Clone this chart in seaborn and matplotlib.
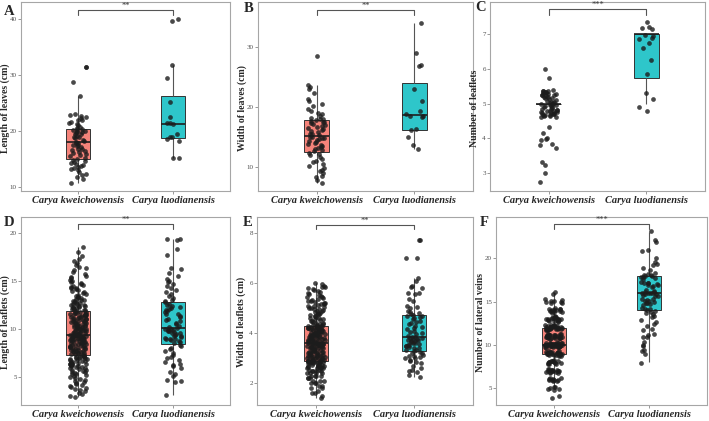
import numpy as np
import pandas as pd
import matplotlib
matplotlib.use("Agg")
import matplotlib.pyplot as plt
import seaborn as sns

sns.set_style("white")
plt.rcParams['font.family'] = ['Liberation Serif', 'DejaVu Serif']

species = ["Carya kweichowensis", "Carya luodianensis"]
box_colors = ["#F5837A", "#2EC6CA"]

# A - length of leaves (cm)
a_kw = [10.8, 11.5, 11.9, 12.1, 12.4, 12.8, 13.0, 13.2, 13.4, 13.6, 13.8, 14.0, 14.1, 14.3, 14.5, 14.7, 14.8,
        15.0, 15.2, 15.5, 15.7, 15.9, 16.1, 16.3, 16.5, 16.6, 16.8, 16.9, 17.1, 17.3, 17.5, 17.6, 17.8, 17.9,
        18.1, 18.3, 18.5, 18.7, 18.9, 19.0, 19.2, 19.4, 19.5, 19.7, 19.8, 19.9, 20.0, 20.1, 20.2, 20.3, 20.4,
        20.6, 20.8, 21.0, 21.3, 21.5, 21.7, 21.9, 22.0, 22.3, 22.5, 22.7, 22.9, 23.0, 26.2, 28.8, 31.4, 31.4]
a_luo = [15.3, 15.3, 18.3, 18.6, 18.9, 19.0, 19.4, 21.3, 21.4, 21.4, 22.5, 25.1, 29.4, 31.7, 39.6, 40.0]

# B - width of leaves (cm)
b_kw = [7.4, 7.9, 8.3, 8.6, 9.0, 9.3, 9.6, 9.9, 10.2, 10.5, 10.8, 11.1, 11.4, 11.7, 12.0, 12.2, 12.4,
        12.7, 12.9, 13.0, 13.2, 13.4, 13.5, 13.7, 13.9, 14.0, 14.2, 14.4, 14.5, 14.7, 14.8, 14.9, 15.0, 15.1,
        15.3, 15.5, 15.6, 15.8, 16.0, 16.2, 16.3, 16.5, 16.7, 16.8, 17.0, 17.2, 17.3, 17.5, 17.6, 17.7, 17.8,
        18.0, 18.1, 18.2, 18.5, 18.8, 19.0, 19.3, 19.7, 20.2, 20.6, 21.0, 21.4, 22.4, 23.0, 23.3, 23.7, 28.6]
b_luo = [13.1, 13.7, 15.1, 16.2, 16.3, 18.3, 18.5, 18.6, 18.8, 19.4, 21.0, 23.0, 26.9, 27.0, 29.0, 34.0]

# C - number of leaflets (counts, shown with vertical jitter as in the figure)
c_kw = [2.75, 3.0, 3.25, 3.33, 3.72, 3.8, 3.85, 3.95, 3.98, 4.02, 4.15, 4.32, 5.75, 6.0,
        5.38, 5.36, 5.35, 5.33, 5.31, 5.3, 5.28, 5.26, 5.25, 5.22, 5.2, 5.18, 5.15, 5.12, 5.1, 5.08,
        5.05, 5.03, 5.02, 5.0, 4.99, 4.97, 4.95, 4.93, 4.9, 4.88, 4.86, 4.85, 4.83, 4.82, 4.8, 4.78,
        4.77, 4.75, 4.73, 4.72, 4.7, 4.68, 4.67, 4.65, 4.64, 4.63, 4.62, 5.37, 5.29, 5.24, 5.16, 5.06,
        4.96, 4.91, 4.79, 4.74, 4.69, 4.66, 5.34]
c_luo = [7.35, 7.2, 7.18, 7.15, 6.98, 6.95, 6.88, 6.85, 6.75, 6.6, 6.25, 5.85, 5.3, 5.12, 4.9, 4.8]

# D - length of leaflets (cm)
d_kw = [2.9, 3.0, 3.2, 3.3, 3.5, 3.6, 3.8, 3.9, 4.0, 4.1, 4.2, 4.3, 4.4, 4.5, 4.6, 4.7, 4.8, 4.9, 5.0, 5.1,
        5.2, 5.3, 5.3, 5.4, 5.5, 5.5, 5.6, 5.7, 5.7, 5.8, 5.9, 5.9, 6.0, 6.0, 6.1, 6.1, 6.2, 6.2, 6.3, 6.3,
        6.4, 6.4, 6.5, 6.5, 6.6, 6.6, 6.7, 6.7, 6.8, 6.8, 6.9, 6.9, 7.0, 7.0, 7.0, 7.1, 7.1, 7.1, 7.2, 7.2,
        7.3, 7.3, 7.4, 7.4, 7.5, 7.5, 7.5, 7.6, 7.6, 7.7, 7.7, 7.7, 7.8, 7.8, 7.9, 7.9, 7.9, 8.0, 8.0, 8.1,
        8.1, 8.1, 8.2, 8.2, 8.3, 8.3, 8.3, 8.4, 8.4, 8.5, 8.5, 8.5, 8.6, 8.6, 8.7, 8.7, 8.7, 8.8, 8.8, 8.9,
        8.9, 8.9, 9.0, 9.0, 9.0, 9.1, 9.1, 9.1, 9.2, 9.2, 9.2, 9.3, 9.3, 9.3, 9.3, 9.3, 9.4, 9.4, 9.4, 9.4,
        9.4, 9.5, 9.5, 9.5, 9.6, 9.6, 9.6, 9.7, 9.7, 9.8, 9.8, 9.8, 9.9, 9.9, 10.0, 10.0, 10.0, 10.1, 10.1, 10.2,
        10.2, 10.2, 10.3, 10.3, 10.4, 10.4, 10.4, 10.5, 10.5, 10.6, 10.6, 10.6, 10.7, 10.7, 10.8, 10.8, 10.8,
        10.9, 10.9, 11.0, 11.0, 11.0, 11.1, 11.1, 11.2, 11.2, 11.2, 11.3, 11.3, 11.4, 11.4, 11.4, 11.5, 11.5,
        11.6, 11.6, 11.7, 11.7, 11.8, 11.8,
        11.9, 11.9, 12.0, 12.0, 12.1, 12.1, 12.2, 12.2, 12.3, 12.3, 12.4, 12.4, 12.5, 12.5, 12.6, 12.6, 12.7,
        12.7, 12.8, 12.9, 12.9, 13.0, 13.0, 13.1, 13.2, 13.3, 13.3, 13.4, 13.5, 13.6, 13.7, 13.8, 13.9, 14.0,
        14.1, 14.2, 14.3, 14.4, 14.5, 14.6, 14.7, 14.8, 14.9, 15.0, 15.1, 15.3, 15.4, 15.5, 15.7, 15.9, 16.1,
        16.3, 16.4, 16.6, 16.9, 17.1, 17.3, 17.6, 18.0, 18.5]
d_luo = [3.1, 4.5, 4.6, 4.7, 5.1, 5.3, 5.5, 5.9, 6.1, 6.2, 6.4, 6.6, 6.8, 7.0, 7.1, 7.3, 7.5, 7.7, 7.9, 8.0, 8.2, 8.3,
         8.5, 8.6, 8.7, 8.8, 8.9, 9.0, 9.0, 9.1, 9.2, 9.3, 9.3, 9.4, 9.5, 9.6, 9.6, 9.7, 9.8, 9.8, 9.9, 9.9, 10.0, 10.0,
         10.1, 10.2, 10.3, 10.5, 10.6, 10.8, 10.9, 11.0, 11.2, 11.3, 11.5, 11.6, 11.8, 11.9, 12.0, 12.1, 12.2, 12.3,
         12.4, 12.5, 12.6, 12.8,
         12.9, 13.0, 13.2, 13.4, 13.6, 13.8, 14.0, 14.3, 14.5, 14.7, 14.9, 15.0, 15.2, 15.5, 15.8, 16.2, 16.3, 17.7,
         18.3, 19.2, 19.3, 19.35]

# E - width of leaflets (cm)
e_kw = [1.4, 1.5, 1.6, 1.6, 1.7, 1.8, 1.8, 1.9, 1.9, 2.0, 2.0, 2.0, 2.1, 2.1, 2.1, 2.2, 2.2, 2.2, 2.3, 2.3,
        2.3, 2.3, 2.4, 2.4, 2.4, 2.4, 2.5, 2.5, 2.5, 2.5, 2.55, 2.55, 2.6, 2.6, 2.6, 2.6, 2.65, 2.65, 2.65, 2.7,
        2.7, 2.7, 2.7, 2.75, 2.75, 2.75, 2.8, 2.8, 2.8, 2.8, 2.82, 2.84, 2.85, 2.85, 2.86, 2.87, 2.88, 2.88, 2.89, 2.89,
        2.9, 2.9, 2.92, 2.93, 2.95, 2.95, 2.97, 2.98, 3.0, 3.0, 3.02, 3.03, 3.05, 3.05, 3.07, 3.08, 3.1, 3.1, 3.12, 3.13,
        3.15, 3.15, 3.17, 3.18, 3.2, 3.2, 3.22, 3.23, 3.25, 3.25, 3.27, 3.28, 3.3, 3.3, 3.32, 3.33, 3.35, 3.35, 3.37, 3.38,
        3.4, 3.4, 3.42, 3.43, 3.45, 3.45, 3.47, 3.48, 3.5, 3.5, 3.52, 3.53, 3.54, 3.55, 3.56, 3.57, 3.58, 3.58, 3.59, 3.6,
        3.6, 3.61, 3.62, 3.63, 3.65, 3.66, 3.67, 3.68, 3.7, 3.7, 3.72, 3.73, 3.74, 3.75, 3.77, 3.78, 3.8, 3.8, 3.81, 3.83,
        3.84, 3.85, 3.87, 3.88, 3.9, 3.9, 3.91, 3.93, 3.94, 3.95, 3.97, 3.98, 4.0, 4.0, 4.01, 4.03, 4.04, 4.05, 4.07, 4.08,
        4.1, 4.1, 4.11, 4.13, 4.14, 4.15, 4.17, 4.18, 4.2, 4.2, 4.21, 4.22, 4.23, 4.24, 4.25, 4.26, 4.27, 4.28, 4.29, 4.3,
        4.31, 4.33, 4.35, 4.37, 4.4, 4.42, 4.45, 4.47, 4.5, 4.52, 4.55, 4.58, 4.6, 4.62, 4.65, 4.68, 4.7, 4.72, 4.75, 4.78,
        4.8, 4.82, 4.85, 4.88, 4.9, 4.92, 4.95, 4.98, 5.0, 5.02, 5.05, 5.08, 5.1, 5.12, 5.15, 5.18, 5.2, 5.22, 5.25, 5.28,
        5.3, 5.33, 5.36, 5.4, 5.43, 5.46, 5.5, 5.53, 5.56, 5.6, 5.64, 5.68, 5.72, 5.76, 5.8, 5.83, 5.86, 5.9, 5.95, 6.0]
e_luo = [2.26, 2.35, 2.45, 2.5, 2.55, 2.6, 2.7, 2.8, 2.85, 2.9, 2.95, 3.0, 3.0, 3.05, 3.1, 3.1, 3.15, 3.2, 3.2, 3.25, 3.28,
         3.32, 3.35, 3.4, 3.42, 3.45, 3.48, 3.5, 3.52, 3.55, 3.58, 3.6, 3.62, 3.65, 3.68, 3.7, 3.72, 3.74, 3.76, 3.78, 3.8, 3.82,
         3.84, 3.86, 3.9, 3.95, 4.0, 4.05, 4.1, 4.15, 4.2, 4.25, 4.3, 4.35, 4.4, 4.45, 4.5, 4.55, 4.6, 4.65, 4.68, 4.7, 4.73,
         4.78, 4.8, 4.85, 4.9, 5.0, 5.05, 5.1, 5.3, 5.35, 5.55, 5.6, 5.6, 5.8, 5.85, 5.9, 6.1, 6.2, 7.0, 7.0, 7.7, 7.7]

# F - number of lateral veins (counts, shown with vertical jitter)
f_kw = [3.9, 4.1,
        4.8, 4.9, 5.0, 5.1, 5.2, 4.95,
        5.8, 5.9, 5.95, 6.0, 6.05, 6.1, 6.2, 5.85, 6.15, 6.0,
        6.8, 6.85, 6.9, 6.95, 7.0, 7.0, 7.05, 7.1, 7.15, 7.2, 6.75, 7.25, 6.9, 7.1, 7.0,
        7.8, 7.85, 7.9, 7.95, 8.0, 8.0, 8.05, 8.1, 8.15, 8.2, 7.75, 8.25, 7.9, 8.1,
        8.7, 8.75, 8.8, 8.85, 8.9, 8.9, 8.95, 9.0, 9.0, 9.0, 9.05, 9.1, 9.1, 9.15, 9.2, 9.2, 9.25, 9.3,
        8.8, 8.95, 9.05, 9.1, 8.85, 9.15,
        9.7, 9.75, 9.8, 9.8, 9.85, 9.9, 9.9, 9.95, 10.0, 10.0, 10.0, 10.05, 10.1, 10.1, 10.15, 10.2, 10.2,
        10.25, 10.3, 9.75, 9.85, 9.9, 9.95, 10.0, 10.05, 10.1, 10.15, 9.8, 10.2, 9.9, 10.0, 10.1, 10.25,
        10.7, 10.75, 10.8, 10.85, 10.9, 10.95, 11.0, 11.0, 11.05, 11.1, 11.15, 11.2, 11.25, 11.3, 10.8,
        10.9, 11.0, 11.1, 11.2, 10.85, 10.95, 11.05, 11.15, 10.75, 11.25,
        11.7, 11.75, 11.8, 11.85, 11.9, 11.95, 12.0, 12.0, 12.05, 12.1, 12.15, 12.2, 12.25, 12.3, 11.8,
        11.9, 12.0, 12.1, 12.2, 11.85, 11.95, 12.05, 12.15, 11.75, 12.25, 11.9, 12.0, 12.1, 11.8, 12.2,
        12.7, 12.75, 12.8, 12.85, 12.9, 12.95, 13.0, 13.0, 13.05, 13.1, 13.15, 13.2, 13.25, 13.3, 12.9, 13.0, 13.1, 12.8,
        13.7, 13.8, 13.85, 13.9, 13.95, 14.0, 14.0, 14.05, 14.1, 14.15, 14.2, 14.25, 13.9,
        14.8, 14.9, 15.0, 15.05, 15.1, 15.2, 15.25, 14.95,
        15.9, 16.1]
f_luo = [7.9, 9.4, 9.35, 8.9, 10.3, 10.0, 9.9, 10.9, 10.96, 11.3, 11.2, 11.7, 11.9, 12.4, 12.2,
         12.9, 13.2, 13.35, 12.7, 13.6, 13.85, 14.0, 14.1, 14.3, 13.9, 14.2, 13.7,
         14.6, 14.8, 15.0, 15.1, 15.3, 14.9, 15.2, 15.35, 14.7, 15.05,
         15.6, 15.7, 15.8, 15.9, 16.0, 16.0, 16.1, 16.2, 16.3, 15.85, 16.05, 16.15, 15.95,
         16.7, 16.8, 16.9, 17.0, 17.1, 17.2, 17.3, 16.95, 17.15,
         17.6, 17.7, 17.8, 17.9, 18.0, 18.1, 18.2, 18.3, 17.95, 18.05,
         18.6, 18.9, 19.2, 19.35, 19.6, 20.0, 20.85, 21.0, 21.9, 22.1, 23.15]

letters = ["A", "B", "C", "D", "E", "F"]
ylabels = ["Length of leaves (cm)", "Width of leaves (cm)", "Number of leaflets",
           "Length of leaflets (cm)", "Width of leaflets (cm)", "Number of lateral veins"]
stars = ["**", "**", "***", "**", "**", "***"]
counted = [False, False, True, False, False, True]
groups = [(a_kw, a_luo), (b_kw, b_luo), (c_kw, c_luo), (d_kw, d_luo), (e_kw, e_luo), (f_kw, f_luo)]

# layout (pixels: left, top, right, bottom), y ranges, ticks, bracket heights
W, H = 709, 421
boxes_px = [(21, 2, 230, 191), (258, 2, 473, 191), (490, 2, 705, 191),
            (21, 217, 230, 405), (257, 217, 473, 405), (496, 217, 707, 405)]
ylims = [(9.34, 42.97), (6.05, 37.55), (2.49, 7.92), (2.09, 21.63), (1.14, 8.63), (3.07, 24.77)]
yticks = [[10, 20, 30, 40], [10, 20, 30], [3, 4, 5, 6, 7], [5, 10, 15, 20], [2, 4, 6, 8], [5, 10, 15, 20]]
brackets = [(41.55, 40.6), (36.2, 35.4), (7.71, 7.55), (20.87, 20.38), (8.33, 8.15), (23.92, 23.38)]
letter_px = [(9, 11.5), (248.5, 8), (481, 7.5), (9, 222), (247.5, 222), (484, 222)]

np.random.seed(7)
fig = plt.figure(figsize=(W / 100, H / 100), dpi=100)

for i in range(6):
    l, t, r, b = boxes_px[i]
    ax = fig.add_axes([l / W, 1 - b / H, (r - l) / W, (b - t) / H])
    kw, luo = groups[i]
    df = pd.DataFrame({
        "species": [species[0]] * len(kw) + [species[1]] * len(luo),
        "shown": kw + luo,
    })
    df["value"] = np.round(df["shown"]) if counted[i] else df["shown"]

    sns.boxplot(data=df, x="species", y="value", hue="species", order=species, hue_order=species,
                palette=box_colors, saturation=1, width=0.25, showfliers=False, showcaps=False,
                linewidth=0.7, linecolor="#333333", legend=False,
                medianprops=dict(linewidth=1.2, color="#1f1f1f"),
                whiskerprops=dict(linewidth=0.8, color="#555555"), ax=ax)
    sns.stripplot(data=df, x="species", y="shown", order=species, color="#1c1c1c",
                  size=3.4, jitter=0.09, alpha=0.8, linewidth=0, ax=ax)

    ax.set_xlim(-0.6, 1.6)
    ax.set_ylim(*ylims[i])
    ax.set_yticks(yticks[i])
    ax.set_xlabel("")
    ax.set_ylabel(ylabels[i], fontsize=7, fontweight="bold")
    ax.yaxis.set_label_coords(-11 / (r - l), 0.44)
    for sp in ax.spines.values():
        sp.set_visible(True)
        sp.set_color("#a6a6a6")
        sp.set_linewidth(0.8)
    ax.tick_params(axis="y", length=2, width=0.6, color="#888888", labelsize=5,
                   labelcolor="#4d4d4d", pad=1, left=True)
    ax.tick_params(axis="x", length=2, width=0.6, color="#888888", labelsize=7.5, pad=1.5, bottom=True)
    for lbl in ax.get_xticklabels():
        lbl.set_fontweight("bold")
        lbl.set_fontstyle("italic")

    top, tip = brackets[i]
    ax.plot([0, 0, 1, 1], [tip, top, top, tip], color="#555555", lw=0.8, clip_on=False)
    ax.text(0.5, top, stars[i], ha="center", va="bottom", fontsize=6, color="#333333")

    lx, ly = letter_px[i]
    fig.text(lx / W, 1 - ly / H, letters[i], ha="center", va="center", fontsize=10.5, fontweight="bold")

fig.savefig("out.png", dpi=100)
